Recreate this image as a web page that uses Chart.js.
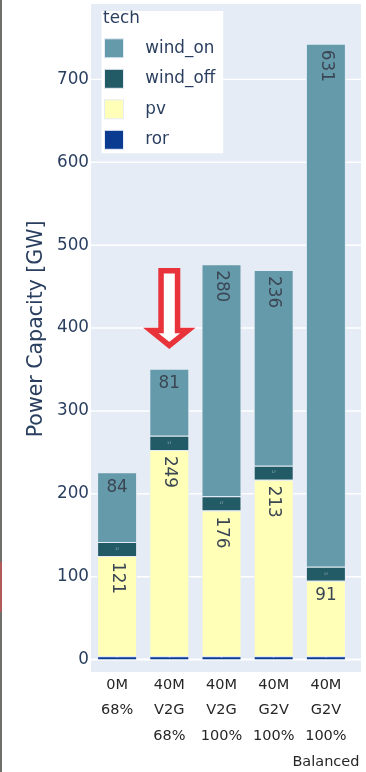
<!DOCTYPE html>
<html>
<head>
<meta charset="utf-8">
<title>Power Capacity by scenario</title>
<script src="https://cdn.jsdelivr.net/npm/chart.js@4.4.1/dist/chart.umd.min.js"></script>
<style>
  html, body { margin: 0; padding: 0; background: #fff; }
  #wrap { position: relative; width: 366px; height: 772px; overflow: hidden; }
  #edge {
    position: absolute; left: 0; top: 0; width: 2px; height: 772px;
    background: linear-gradient(to bottom, #707068 0, #707068 562px, #b05a5a 562px, #b05a5a 612px, #707068 612px);
  }
  canvas { display: block; }
</style>
</head>
<body>
<div id="wrap">
  <canvas id="capacityChart" width="366" height="772"></canvas>
  <div id="edge"></div>
</div>
<script>
const scenarios = [
  ['0M', '68%'],
  ['40M', 'V2G', '68%'],
  ['40M', 'V2G', '100%'],
  ['40M', 'G2V', '100%'],
  ['40M', 'G2V', '100%', 'Balanced']
];
const ror = [4, 4, 4, 4, 4];
const pv = [121, 249, 176, 213, 91];
const windOff = [17, 17, 17, 17, 17];
const windOn = [84, 81, 280, 236, 631];
const yTickValues = [0, 100, 200, 300, 400, 500, 600, 700];
const yTitle = 'Power Capacity [GW]';

// red call-out above the second scenario (category index, values in GW)
const callout = { index: 1, top: 469, headBase: 397, tip: 379 };

const FONT = "'DejaVu Sans', Verdana, sans-serif";
const TEXT = '#2a3f5f';
const PLOT_BG = '#e5ecf6';
const BG_EXTRA = 9; // plot background runs a little past the last category

const datasets = [
  { label: 'ror', data: ror, backgroundColor: '#0b3a91', labelColor: '#fff' },
  { label: 'pv', data: pv, backgroundColor: '#ffffb8', labelColor: '#3b4654' },
  { label: 'wind_off', data: windOff, backgroundColor: '#225b66', labelColor: '#fff' },
  { label: 'wind_on', data: windOn, backgroundColor: '#659aaa', labelColor: '#3b4654' }
].map(d => Object.assign(d, {
  borderColor: PLOT_BG,
  borderWidth: 1,
  barPercentage: 0.766,
  categoryPercentage: 1
}));

const plotBackground = {
  id: 'plotBackground',
  afterLayout(chart) {
    const lg = chart.legend;
    lg.left = chart.chartArea.left + 2;
    lg.top = chart.chartArea.top + 6.5;
  },
  beforeDraw(chart) {
    const { ctx, chartArea: a } = chart;
    const ys = chart.scales.y;
    ctx.save();
    ctx.fillStyle = PLOT_BG;
    ctx.fillRect(a.left, a.top, a.right + BG_EXTRA - a.left, a.bottom - a.top);
    ctx.strokeStyle = '#fff';
    yTickValues.forEach(v => {
      const py = ys.getPixelForValue(v);
      ctx.lineWidth = v === 0 ? 2 : 1.4;
      ctx.beginPath();
      ctx.moveTo(a.left, py);
      ctx.lineTo(a.right + BG_EXTRA, py);
      ctx.stroke();
    });
    // white panel behind the legend
    const hb = chart.legend.legendHitBoxes;
    if (hb && hb.length) {
      const left = hb[0].left - 3;
      const right = Math.max(...hb.map(h => h.left + h.width)) + 8;
      const last = hb[hb.length - 1];
      const top = chart.legend.top + 0.5;
      const bottom = last.top + last.height + 4;
      ctx.fillStyle = '#fff';
      ctx.fillRect(left, top, right - left, bottom - top);
    }
    // axis title, centred a little above the middle of the plot
    const midY = ys.getPixelForValue(399);
    ctx.translate(37, midY);
    ctx.rotate(-Math.PI / 2);
    ctx.font = '20.5px ' + FONT;
    ctx.fillStyle = TEXT;
    ctx.textAlign = 'center';
    ctx.textBaseline = 'middle';
    ctx.fillText(yTitle, 0, 0);
    ctx.restore();
  }
};

const barLabels = {
  id: 'barLabels',
  afterDatasetsDraw(chart) {
    const ctx = chart.ctx;
    chart.data.datasets.forEach((ds, di) => {
      const meta = chart.getDatasetMeta(di);
      meta.data.forEach((bar, i) => {
        const text = String(ds.data[i]);
        const top = Math.min(bar.y, bar.base);
        const height = Math.abs(bar.base - bar.y);
        ctx.save();
        ctx.fillStyle = ds.labelColor;
        if (height < 20) {
          // text squeezed down to fit a thin segment
          ctx.globalAlpha = 0.6;
          ctx.font = Math.max(2, height * 0.22) + 'px ' + FONT;
          ctx.textAlign = 'center';
          ctx.textBaseline = 'middle';
          ctx.fillText(text, bar.x, top + height / 2);
        } else {
          ctx.font = '16.8px ' + FONT;
          if (ctx.measureText(text).width > bar.width - 10) {
            ctx.translate(bar.x, top + 6);
            ctx.rotate(Math.PI / 2);
            ctx.textAlign = 'left';
            ctx.textBaseline = 'middle';
            ctx.fillText(text, 0, 0);
          } else {
            ctx.textAlign = 'center';
            ctx.textBaseline = 'middle';
            ctx.fillText(text, bar.x, top + 15);
          }
        }
        ctx.restore();
      });
    });
  }
};

const calloutArrow = {
  id: 'calloutArrow',
  afterDraw(chart) {
    const { ctx } = chart;
    const x = chart.scales.x.getPixelForValue(callout.index);
    const ys = chart.scales.y;
    const yTop = ys.getPixelForValue(callout.top);
    const yBase = ys.getPixelForValue(callout.headBase);
    const yTip = ys.getPixelForValue(callout.tip);
    ctx.save();
    ctx.beginPath();
    ctx.moveTo(x - 8.25, yTop);
    ctx.lineTo(x + 8.25, yTop);
    ctx.lineTo(x + 8.25, yBase);
    ctx.lineTo(x + 18.5, yBase);
    ctx.lineTo(x, yTip);
    ctx.lineTo(x - 18.5, yBase);
    ctx.lineTo(x - 8.25, yBase);
    ctx.closePath();
    ctx.fillStyle = '#fff';
    ctx.fill();
    ctx.lineJoin = 'miter';
    ctx.lineWidth = 5.5;
    ctx.strokeStyle = '#e8333b';
    ctx.stroke();
    ctx.restore();
  }
};

new Chart(document.getElementById('capacityChart'), {
  type: 'bar',
  data: { labels: scenarios, datasets },
  plugins: [plotBackground, barLabels, calloutArrow],
  options: {
    responsive: false,
    animation: false,
    devicePixelRatio: 1,
    layout: { padding: { top: 4, right: 14, bottom: 0, left: 0 } },
    plugins: {
      tooltip: { enabled: false },
      legend: {
        position: 'chartArea',
        align: 'start',
        reverse: true,
        title: {
          display: true,
          position: 'start',
          text: '\u2002\u200atech',
          color: TEXT,
          font: { family: FONT, size: 16.8, lineHeight: 1 },
          padding: 0
        },
        labels: {
          color: TEXT,
          font: { family: FONT, size: 16.8 },
          boxWidth: 19,
          boxHeight: 19,
          padding: 11.5,
          generateLabels(chart) {
            return Chart.defaults.plugins.legend.labels.generateLabels(chart)
              .map(item => Object.assign(item, { text: '\u2002\u2009\u200a' + item.text }));
          }
        }
      }
    },
    scales: {
      x: {
        stacked: true,
        grid: { display: false, drawTicks: false },
        border: { display: false },
        afterFit(s) {
          s.height = 100;
          s.paddingLeft = 0;
          s.paddingRight = 0;
        },
        ticks: {
          color: '#262626',
          font: { family: FONT, size: 14.5, lineHeight: 1.77 },
          padding: 0,
          maxRotation: 0,
          autoSkip: false
        }
      },
      y: {
        stacked: true,
        min: -15,
        max: 791,
        afterFit(s) {
          s.width = 91;
          s.paddingTop = 0;
          s.paddingBottom = 0;
        },
        afterBuildTicks(s) { s.ticks = yTickValues.map(v => ({ value: v })); },
        grid: { display: false, drawTicks: false },
        border: { display: false },
        ticks: {
          color: TEXT,
          font: { family: FONT, size: 16.8 },
          padding: 2
        }
      }
    }
  }
});
</script>
</body>
</html>
